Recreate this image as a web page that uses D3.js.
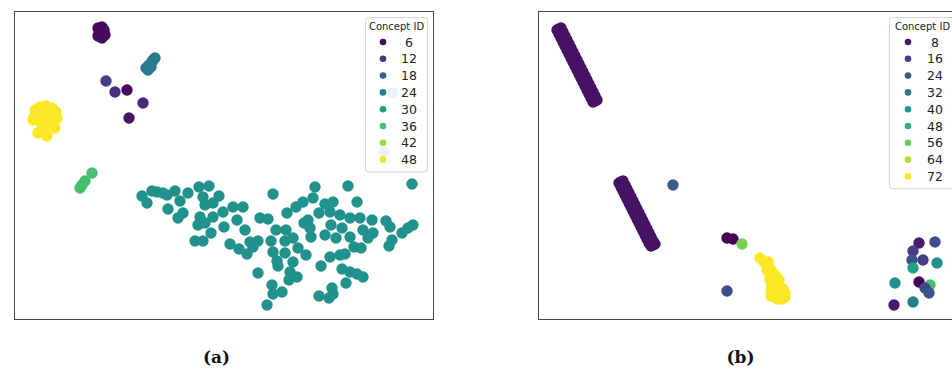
<!DOCTYPE html>
<html>
<head>
<meta charset="utf-8">
<script src="https://cdn.jsdelivr.net/npm/d3@7"></script>
<style>
  body { margin: 0; background: #fff; }
  svg { display: block; }
</style>
</head>
<body>
<div id="chart"></div>
<script>
// ---------- data, panel (a) ----------
// embedding coordinates [x, y]
const legendA = [6, 12, 18, 24, 30, 36, 42, 48];
const colorDomainA = [5, 49];

const blobA6 = [[84,291],[88,292],[90,289],[85,287],[89,286],[84,283],[88,281],[91,284],[86,289],[87,285]];
const clusterA23 = [[132,251],[135,254],[138,257],[141,261],[134,249],[137,252],[139,259]];
// [x, y, concept]
const singlesA = [[92,238,13],[101,227,11],[113,229,6],[129,216,10],[115,201,7]];
const blobA49 = [[21,209],[26,212],[32,213],[38,211],[42,207],[43,201],[39,196],[33,197],[26,199],[20,202],
  [23,205],[31,206],[36,203],[28,193],[41,191],[24,186],[33,183],[30,189],[37,209],[19,199]];
const clusterA36 = [[66,131],[68,134],[71,138],[78,146]];
const clusterA27 = [[128,123],[133,116],[138,128],[143,127],[149,126],[153,124],[161,128],[166,118],[174,126],
  [154,110],[164,101],[169,106],[185,132],[195,133],[189,122],[191,114],[199,116],[205,123],[186,102],[184,94],
  [191,96],[199,102],[197,86],[210,92],[209,107],[219,112],[229,112],[223,99],[231,89],[181,78],[189,78],
  [216,75],[225,70],[233,65],[236,77],[244,78],[239,72],[246,101],[254,100],[259,125],[262,89],[272,89],
  [273,106],[282,112],[289,117],[299,121],[301,132],[257,78],[259,67],[263,58],[264,53],[271,78],[271,66],
  [279,81],[279,57],[284,71],[292,64],[276,47],[283,42],[275,39],[244,46],[258,34],[268,27],[259,25],[253,14],
  [290,96],[294,99],[296,91],[297,82],[305,106],[311,115],[319,117],[316,107],[311,84],[317,94],[326,104],
  [322,81],[328,91],[336,101],[336,82],[334,133],[343,117],[346,101],[340,72],[347,71],[349,89],[354,81],
  [358,99],[359,86],[326,64],[331,65],[316,62],[307,53],[328,50],[336,47],[343,45],[349,42],[332,36],[318,31],
  [319,25],[305,23],[315,21],[372,98],[376,92],[378,79],[375,73],[388,86],[394,91],[399,94],[398,135],
  [379,226],[370,167]];

// ---------- data, panel (b) ----------
const legendB = [8, 16, 24, 32, 40, 48, 56, 64, 72];
const colorDomainB = [4, 72];

const lineB7a = [
  [21,290],[23,286],[25,282],[27,278],[29,274],[31,270],[33,266],[35,262],[37,258],[39,254],
  [41,250],[43,246],[45,242],[47,238],[49,234],[51,230],[53,226],[55,222],[57,218],
  [23,291],[25,287],[27,283],[29,279],[31,275],[33,271],[35,267],[37,263],[39,259],[41,255],
  [43,251],[45,247],[47,243],[49,239],[51,235],[53,231],[55,227],[57,223],[59,219],
  [19,289],[21,285],[23,281],[25,277],[27,273],[29,269],[31,265],[33,261],[35,257],[37,253],
  [39,249],[41,245],[43,241],[45,237],[47,233],[49,229],[51,225],[53,221],[55,217]];
const lineB7b = [
  [83,137],[85,133],[87,129],[89,125],[91,121],[93,117],[95,113],[97,109],[99,105],
  [101,101],[103,97],[105,93],[107,89],[109,85],[111,81],[113,77],[115,74],
  [85,138],[87,134],[89,130],[91,126],[93,122],[95,118],[97,114],[99,110],[101,106],
  [103,102],[105,98],[107,94],[109,90],[111,86],[113,82],[115,78],[117,75],
  [81,136],[83,132],[85,128],[87,124],[89,120],[91,116],[93,112],[95,108],[97,104],
  [99,100],[101,96],[103,92],[105,88],[107,84],[109,80],[111,76],[113,73]];
const blobB72 = [[222,61],[226,57],[230,53],[233,49],[236,45],[232,44],[229,49],[237,40],[232,39],[240,36],
  [234,34],[233,29],[239,30],[245,30],[247,26],[242,24],[237,23],[233,23],[239,20],[244,20],
  [247,22],[242,27],[236,27],[238,43],[241,39],[230,57]];
// [x, y, concept]
const singlesB = [[135,134,24],[189,28,20],[189,81,4],[195,80,4],[204,75,58],
  [381,76,9],[397,77,20],[375,68,16],[374,59,20],[385,59,16],[375,51,43],[399,56,38],[357,36,38],
  [381,37,4],[392,34,52],[387,31,19],[391,26,22],[375,17,33],[356,14,8]];

// ---------- layout ----------
const width = 952, height = 372;
const r = 5.7;
const svg = d3.select("#chart").append("svg")
  .attr("width", width).attr("height", height)
  .attr("font-family", "DejaVu Sans, sans-serif");

const withC = (pts, c) => pts.map(([x, y]) => [x, y, c]);

const panels = [
  {
    left: 14, top: 11, w: 419, h: 308, caption: "(a)",
    domain: colorDomainA, legend: legendA,
    legendBox: { x: 365, y: 17, w: 62 }, markerX: 383, labelX: 409,
    points: [
      ...singlesA, ...withC(blobA6, 6), ...withC(clusterA23, 23),
      ...withC(blobA49, 49), ...withC(clusterA36, 36), ...withC(clusterA27, 27)
    ]
  },
  {
    left: 538, top: 11, w: 419, h: 308, caption: "(b)",
    domain: colorDomainB, legend: legendB,
    legendBox: { x: 889, y: 17, w: 66 }, markerX: 908, labelX: 935,
    points: [
      ...withC(lineB7a, 7), ...withC(lineB7b, 7), ...withC(blobB72, 72), ...singlesB
    ]
  }
];

panels.forEach(p => {
  const x = d3.scaleLinear().domain([0, 419]).range([p.left, p.left + p.w]);
  const y = d3.scaleLinear().domain([0, 308]).range([p.top + p.h, p.top]);
  const color = d3.scaleSequential(d3.interpolateViridis).domain(p.domain);

  const clipId = "clip" + p.caption.replace(/\W/g, "");
  svg.append("clipPath").attr("id", clipId)
    .append("rect").attr("x", p.left).attr("y", p.top).attr("width", p.w).attr("height", p.h);

  const g = svg.append("g");
  g.append("g").attr("clip-path", `url(#${clipId})`)
    .selectAll("circle")
    .data(p.points)
    .join("circle")
    .attr("cx", d => x(d[0]))
    .attr("cy", d => y(d[1]))
    .attr("r", r)
    .attr("fill", d => color(d[2]));

  // frame
  g.append("rect")
    .attr("x", p.left + 0.5).attr("y", p.top + 0.5)
    .attr("width", p.w).attr("height", p.h)
    .attr("fill", "none").attr("stroke", "#444").attr("stroke-width", 1);

  // legend
  const rowH = 16.8;
  const lb = p.legendBox;
  const lg = g.append("g");
  lg.append("rect")
    .attr("x", lb.x + 0.5).attr("y", lb.y + 0.5)
    .attr("width", lb.w).attr("height", 24 + p.legend.length * rowH - 4)
    .attr("rx", 3)
    .attr("fill", "#fff").attr("fill-opacity", 0.9)
    .attr("stroke", "#d6d6d6");
  lg.append("text")
    .attr("x", lb.x + lb.w / 2 + 0.5).attr("y", lb.y + 13)
    .attr("text-anchor", "middle")
    .attr("font-size", 10).attr("fill", "#222")
    .text("Concept ID");
  const rows = lg.selectAll("g.row").data(p.legend).join("g").attr("class", "row")
    .attr("transform", (d, i) => `translate(0,${42 + i * rowH})`);
  rows.append("circle").attr("cx", p.markerX).attr("cy", 0).attr("r", 3.3)
    .attr("fill", d => color(d));
  rows.append("text").attr("x", p.labelX).attr("y", 0).attr("dy", "0.36em")
    .attr("text-anchor", "middle").attr("font-size", 12.5).attr("fill", "#222")
    .text(d => d);

  // caption
  svg.append("text")
    .attr("x", p.left + p.w / 2 - 7).attr("y", 363)
    .attr("text-anchor", "middle")
    .attr("font-family", "DejaVu Serif, serif")
    .attr("font-weight", "bold").attr("font-size", 17).attr("fill", "#111")
    .text(p.caption);
});
</script>
</body>
</html>
